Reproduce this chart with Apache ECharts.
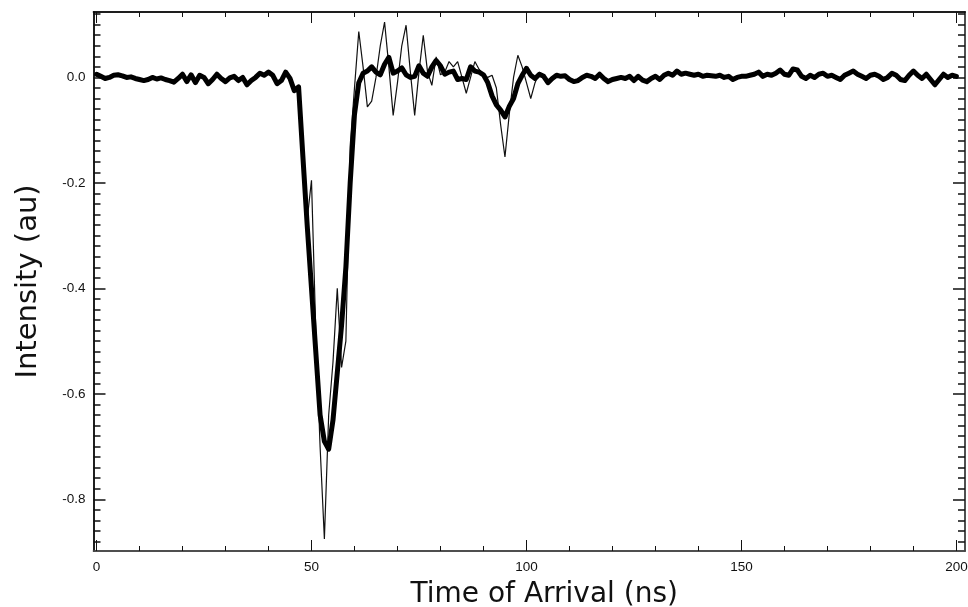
<!DOCTYPE html>
<html>
<head>
<meta charset="utf-8">
<script src="https://cdn.jsdelivr.net/npm/echarts@6/dist/echarts.min.js"></script>
<style>
html,body{margin:0;padding:0;background:#fff;}
#chart{width:968px;height:607px;}
</style>
</head>
<body>
<div id="chart"></div>
<script>
// time of arrival, 1 ns sampling from 0 to 200 ns
var tStart = 0, tStep = 1;

// smoothed signal (thick line)
var smoothed = [
  0.006, 0.002, -0.002, 0.000, 0.004, 0.005, 0.003, 0.000, 0.001, -0.002,
  -0.004, -0.006, -0.004, 0.000, -0.003, -0.001, -0.004, -0.006, -0.009, -0.002,
  0.006, -0.008, 0.005, -0.010, 0.004, 0.000, -0.012, -0.004, 0.006, -0.002,
  -0.008, -0.001, 0.002, -0.006, 0.000, -0.014, -0.006, 0.000, 0.008, 0.004,
  0.010, 0.004, -0.012, -0.006, 0.010, -0.002, -0.025, -0.018, -0.150, -0.280,
  -0.400, -0.520, -0.640, -0.690, -0.705, -0.650, -0.560, -0.470, -0.360, -0.200,
  -0.070, -0.010, 0.008, 0.012, 0.020, 0.010, 0.005, 0.025, 0.038, 0.008,
  0.012, 0.018, 0.005, 0.000, 0.002, 0.022, 0.008, 0.002, 0.020, 0.032,
  0.022, 0.006, 0.010, 0.012, -0.004, -0.002, -0.004, 0.020, 0.012, 0.010,
  0.005, -0.010, -0.035, -0.052, -0.062, -0.075, -0.055, -0.040, -0.012, 0.004,
  0.017, 0.004, -0.002, 0.006, 0.002, -0.010, -0.002, 0.004, 0.002, 0.003,
  -0.004, -0.008, -0.006, 0.000, 0.004, 0.002, -0.002, 0.006, -0.002, -0.008,
  -0.004, -0.002, 0.000, -0.002, 0.002, -0.006, 0.002, -0.005, -0.008, -0.002,
  0.002, -0.004, 0.004, 0.008, 0.004, 0.012, 0.006, 0.008, 0.006, 0.004,
  0.006, 0.002, 0.004, 0.003, 0.002, 0.004, 0.000, 0.002, -0.004, 0.000,
  0.002, 0.002, 0.004, 0.006, 0.010, 0.002, 0.006, 0.004, 0.008, 0.014,
  0.006, 0.004, 0.016, 0.014, 0.002, -0.002, 0.004, 0.000, 0.006, 0.008,
  0.002, 0.004, 0.000, -0.004, 0.004, 0.008, 0.012, 0.006, 0.002, -0.002,
  0.004, 0.006, 0.002, -0.004, 0.000, 0.008, 0.004, -0.004, -0.006, 0.004,
  0.012, 0.004, -0.002, 0.006, -0.004, -0.014, -0.004, 0.006, 0.000, 0.004,
  0.002
];

// raw signal (thin line)
var raw = [
  0.007, 0.001, -0.002, 0.001, 0.004, 0.006, 0.002, 0.000, 0.002, -0.002,
  -0.005, -0.006, -0.003, 0.000, -0.004, -0.001, -0.004, -0.007, -0.009, -0.001,
  0.007, -0.008, 0.006, -0.011, 0.004, 0.001, -0.012, -0.003, 0.006, -0.003,
  -0.008, 0.000, 0.002, -0.007, 0.001, -0.014, -0.005, 0.000, 0.009, 0.003,
  0.008, 0.000, -0.015, -0.004, 0.012, -0.004, -0.020, -0.030, -0.140, -0.270,
  -0.195, -0.480, -0.700, -0.875, -0.640, -0.540, -0.400, -0.550, -0.500, -0.130,
  -0.020, 0.087, 0.020, -0.056, -0.045, 0.000, 0.060, 0.105, 0.020, -0.072,
  -0.010, 0.060, 0.099, 0.010, -0.072, 0.010, 0.080, 0.010, -0.015, 0.039,
  0.005, 0.010, 0.030, 0.020, 0.030, 0.000, -0.030, 0.000, 0.030, 0.015,
  0.005, 0.000, 0.004, -0.020, -0.090, -0.151, -0.070, 0.000, 0.042, 0.020,
  -0.010, -0.040, -0.010, 0.010, 0.004, -0.008, 0.000, 0.004, 0.002, 0.003,
  -0.004, -0.008, -0.006, 0.000, 0.004, 0.002, -0.002, 0.006, -0.002, -0.008,
  -0.004, -0.002, 0.000, -0.002, 0.002, -0.006, 0.002, -0.005, -0.008, -0.002,
  0.002, -0.004, 0.004, 0.008, 0.004, 0.012, 0.006, 0.008, 0.006, 0.004,
  0.006, 0.002, 0.004, 0.003, 0.002, 0.004, 0.000, 0.002, -0.004, 0.000,
  0.002, 0.002, 0.004, 0.006, 0.010, 0.002, 0.006, 0.004, 0.008, 0.014,
  0.006, 0.004, 0.016, 0.014, 0.002, -0.002, 0.004, 0.000, 0.006, 0.008,
  0.002, 0.004, 0.000, -0.004, 0.004, 0.008, 0.012, 0.006, 0.002, -0.002,
  0.004, 0.006, 0.002, -0.004, 0.000, 0.008, 0.004, -0.004, -0.006, 0.004,
  0.012, 0.004, -0.002, 0.006, -0.004, -0.014, -0.004, 0.006, 0.000, 0.004,
  0.002
];

var xMajor = [0, 50, 100, 150, 200];
var yMajor = [0, -0.2, -0.4, -0.6, -0.8];

var xMin = -0.7, xMax = 202;
var yMin = -0.898, yMax = 0.124;

// minor tick positions: every 10 ns, every 0.02 au
var xMinor = [];
for (var i = 0; i <= 20; i++) { if (i % 5) xMinor.push(i * 10); }
var yMinor = [];
for (var k = -44; k <= 6; k++) { if (k % 10) yMinor.push(k / 50); }

function toPairs(vals) {
  return vals.map(function (v, i) { return [tStart + i * tStep, v]; });
}

var darkLine = { lineStyle: { color: '#111', width: 1.5 } };
var greyLine = { lineStyle: { color: '#444', width: 1.5 } };
var labelFont = { color: '#111', fontSize: 13.5, fontFamily: 'Liberation Sans' };

function xAx(pos, ticks, len, labels, line) {
  return {
    type: 'value', position: pos, min: xMin, max: xMax,
    axisLine: Object.assign({ show: true, onZero: false }, line),
    axisTick: { show: true, inside: true, length: len, customValues: ticks, lineStyle: { color: '#111', width: 1 } },
    axisLabel: labels ? Object.assign({ customValues: xMajor, margin: 9 }, labelFont) : { show: false },
    splitLine: { show: false }
  };
}
function yAx(pos, ticks, len, labels, line) {
  return {
    type: 'value', position: pos, min: yMin, max: yMax,
    axisLine: Object.assign({ show: true, onZero: false }, line),
    axisTick: { show: true, inside: true, length: len, customValues: ticks, lineStyle: { color: '#111', width: 1.5 } },
    axisLabel: labels ? Object.assign({
      customValues: yMajor, margin: 8,
      formatter: function (v) { return v.toFixed(1); }
    }, labelFont) : { show: false },
    splitLine: { show: false }
  };
}

var xMain = xAx('bottom', xMajor, 11, true, greyLine);
xMain.name = 'Time of Arrival (ns)';
xMain.nameLocation = 'middle';
xMain.nameGap = 30;
xMain.nameTextStyle = { fontSize: 28, fontFamily: 'DejaVu Sans', color: '#111', padding: [0, 0, 0, 30] };

var yMain = yAx('left', yMajor, 12, true, darkLine);
yMain.name = 'Intensity (au)';
yMain.nameLocation = 'middle';
yMain.nameGap = 51;
yMain.nameTextStyle = { fontSize: 29, fontFamily: 'DejaVu Sans', color: '#111' };

var chart = echarts.init(document.getElementById('chart'));
chart.setOption({
  animation: false,
  backgroundColor: '#fff',
  grid: { left: 93.5, right: 3, top: 12, bottom: 56, containLabel: false, outerBoundsMode: 'none' },
  xAxis: [
    xMain,
    xAx('bottom', xMinor, 5, false, greyLine),
    xAx('top', xMajor, 11, false, darkLine),
    xAx('top', xMinor, 5, false, darkLine)
  ],
  yAxis: [
    yMain,
    yAx('left', yMinor, 7, false, darkLine),
    yAx('right', yMajor, 12, false, greyLine),
    yAx('right', yMinor, 7, false, greyLine)
  ],
  series: [{
    name: 'raw',
    type: 'line',
    data: toPairs(raw),
    showSymbol: false,
    lineStyle: { color: '#111', width: 1.2 },
    z: 2
  }, {
    name: 'smoothed',
    type: 'line',
    data: toPairs(smoothed),
    showSymbol: false,
    lineStyle: { color: '#000', width: 5, join: 'round', cap: 'round' },
    z: 3
  }]
});
</script>
</body>
</html>
